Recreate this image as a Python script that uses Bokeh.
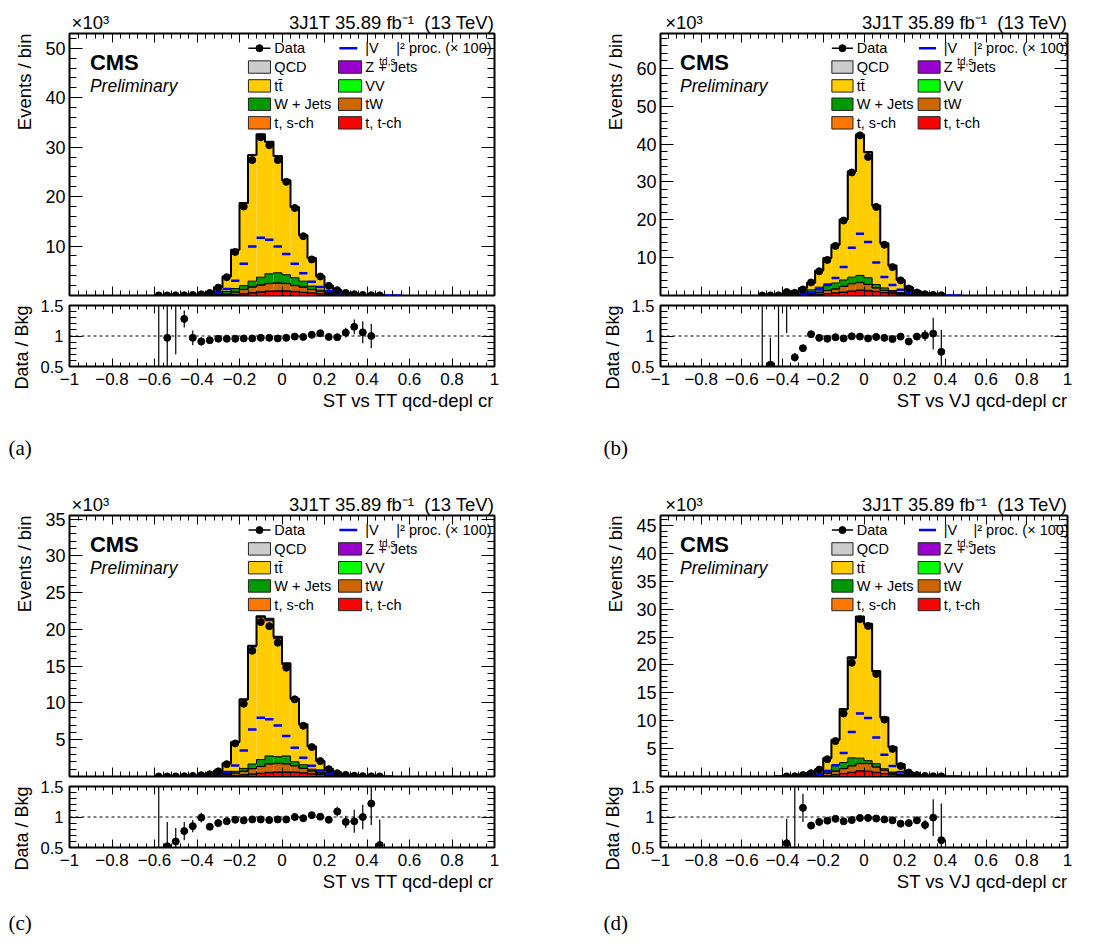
import numpy as np
from bokeh.plotting import figure
from bokeh.models import (Range1d, LinearAxis, SingleIntervalTicker, FixedTicker,
                          CustomJSTickFormatter, Label, Span, Title)
from bokeh.layouts import column, row
from bokeh.embed import file_html
from bokeh.resources import INLINE

FONT = "Liberation Sans"
EDGES = np.linspace(-1.0, 1.0, 51)
LEFT = EDGES[:-1]
RIGHT = EDGES[1:]
CENTERS = 0.5 * (LEFT + RIGHT)
COMP_START = 14

COMP_NAMES = ["t, t-ch", "t, s-ch", "tW", "VV", "W + Jets", "t\u0074\u0304", "Z + Jets", "QCD"]
COMP_COLORS = ["#ff0000", "#ff7700", "#cc6600", "#00ff00", "#009900", "#ffcc00", "#9900cc", "#cccccc"]

# ---------------- panel (a) : ST vs TT ----------------
A_DATA_START = 10
A_DATA = [0.02, 0.02, 0.03, 0.05, 0.11, 0.23, 0.52, 1.6, 3.7, 8.8, 18.0, 27.4, 32.0, 30.4, 27.4,
          23.0, 17.7, 12.0, 7.3, 3.85, 1.95, 1.08, 0.52, 0.25, 0.12, 0.06, 0.03]
A_BLUE_START = 10
A_BLUE = [0.02, 0.03, 0.04, 0.06, 0.1, 0.15, 0.3, 0.7, 1.3, 3.0, 6.4, 9.9, 11.7, 11.3, 9.9, 8.4,
          6.4, 4.5, 2.8, 1.7, 0.9, 0.5, 0.25, 0.12, 0.06, 0.04, 0.03, 0.02, 0.01]
A_RATIO_START = 10
A_RATIO = [0.3, 0.97, 1.6, 1.28, 0.97, 0.91, 0.93, 0.955, 0.955, 0.955, 0.96, 0.96, 0.97, 0.97,
           0.96, 0.97, 0.99, 0.985, 1.02, 1.045, 0.985, 0.98, 1.055, 1.15, 1.06, 1.0]
A_RATIO_ERR = [1.6, 0.9, 0.9, 0.14, 0.12, 0.07, 0.045, 0.025, 0.015, 0.01, 0.01, 0.01, 0.01, 0.01,
               0.01, 0.01, 0.01, 0.012, 0.015, 0.02, 0.03, 0.04, 0.08, 0.12, 0.18, 0.2]
A_TCH = [0, 0.01, 0.02, 0.05, 0.1, 0.2, 0.3, 0.5, 0.65, 0.8, 0.85, 0.85, 0.75, 0.6, 0.45, 0.3, 0.15, 0.08, 0.04, 0.02]
A_SCH = [0, 0, 0, 0.01, 0.02, 0.04, 0.06, 0.08, 0.1, 0.1, 0.1, 0.1, 0.08, 0.06, 0.05, 0.03, 0.02, 0.01, 0, 0]
A_TW = [0.01, 0.02, 0.04, 0.09, 0.18, 0.45, 0.84, 1.12, 1.35, 1.5, 1.55, 1.45, 1.17, 1.04, 0.7, 0.47, 0.28, 0.16, 0.08, 0.04]
A_VV = [0, 0, 0, 0, 0.01, 0.02, 0.03, 0.04, 0.05, 0.05, 0.05, 0.05, 0.04, 0.03, 0.02, 0.01, 0.01, 0, 0, 0]
A_WJ = [0.02, 0.04, 0.09, 0.25, 0.49, 0.69, 0.77, 1.16, 1.55, 1.95, 2.05, 1.75, 1.56, 1.17, 0.68, 0.29, 0.14, 0.1, 0.06, 0.03]
A_TT = [0.09, 0.18, 0.4, 1.3, 3.04, 7.82, 16.64, 25.42, 28.79, 26.59, 23.49, 19.01, 14.22, 9.25, 5.66, 2.78, 1.39, 0.75, 0.32, 0.19]
A_ZJ = [0, 0, 0, 0, 0.01, 0.02, 0.04, 0.06, 0.08, 0.08, 0.08, 0.07, 0.06, 0.04, 0.03, 0.02, 0.01, 0, 0, 0]
A_QCD = [0, 0, 0, 0, 0, 0.01, 0.02, 0.02, 0.03, 0.03, 0.03, 0.02, 0.02, 0.01, 0.01, 0, 0, 0, 0, 0]

# ---------------- panel (b) : ST vs VJ ----------------
B_DATA_START = 12
B_DATA = [0.01, 0.02, 0.05, 0.9, 0.7, 1.6, 3.45, 6.4, 9.4, 13.1, 19.8, 32.5, 42.3, 36.6, 23.4,
          13.4, 7.5, 4.0, 1.85, 0.8, 0.35, 0.15, 0.07]
B_BLUE_START = 12
B_BLUE = [0.02, 0.03, 0.06, 0.15, 0.3, 0.5, 0.8, 1.65, 2.9, 4.6, 7.5, 12.6, 16.3, 14.1, 8.7, 4.9,
          2.8, 1.5, 0.8, 0.4, 0.2, 0.1, 0.05, 0.03, 0.02]
B_RATIO_START = 12
B_RATIO = [0.3, 0.53, 0.3, 1.6, 0.65, 0.8, 1.03, 0.97, 0.955, 0.98, 0.96, 0.995, 0.99, 0.96,
           0.985, 0.97, 0.95, 0.99, 0.91, 0.99, 1.01, 1.04, 0.74]
B_RATIO_ERR = [1.6, 0.44, 1.6, 0.55, 0.07, 0.04, 0.03, 0.02, 0.015, 0.01, 0.01, 0.01, 0.01, 0.01,
               0.01, 0.01, 0.015, 0.02, 0.03, 0.04, 0.09, 0.26, 0.36]
B_TCH = [0.01, 0.03, 0.06, 0.1, 0.2, 0.3, 0.45, 0.6, 0.8, 1.05, 1.3, 1.2, 1.0, 0.7, 0.45, 0.3, 0.15, 0.08, 0.04, 0.02]
B_SCH = [0, 0, 0.01, 0.02, 0.03, 0.05, 0.07, 0.09, 0.12, 0.14, 0.15, 0.14, 0.12, 0.09, 0.06, 0.04, 0.02, 0.01, 0, 0]
B_TW = [0.02, 0.05, 0.08, 0.18, 0.32, 0.45, 0.78, 1.01, 1.48, 1.91, 1.95, 1.56, 0.88, 0.51, 0.39, 0.21, 0.13, 0.06, 0.04, 0.02]
B_VV = [0, 0, 0, 0.01, 0.01, 0.02, 0.03, 0.04, 0.05, 0.06, 0.06, 0.05, 0.04, 0.03, 0.02, 0.01, 0.01, 0, 0, 0]
B_WJ = [0.03, 0.07, 0.2, 0.49, 0.94, 1.38, 1.27, 1.56, 1.65, 1.69, 1.84, 1.75, 0.86, 0.67, 0.38, 0.24, 0.14, 0.1, 0.04, 0.02]
B_TT = [0.14, 0.45, 0.75, 1.19, 1.82, 4.36, 7.23, 10.01, 15.87, 27.77, 37.0, 33.02, 20.77, 11.72, 6.55, 3.27, 1.74, 0.9, 0.38, 0.19]
B_ZJ = [0, 0, 0, 0.01, 0.02, 0.03, 0.05, 0.07, 0.1, 0.14, 0.16, 0.14, 0.1, 0.06, 0.04, 0.02, 0.01, 0, 0, 0]
B_QCD = [0, 0, 0, 0, 0.01, 0.01, 0.02, 0.02, 0.03, 0.04, 0.04, 0.04, 0.03, 0.02, 0.01, 0.01, 0, 0, 0, 0]

# ---------------- panel (c) : ST vs TT ----------------
C_DATA_START = 10
C_DATA = [0.005, 0.01, 0.015, 0.03, 0.085, 0.18, 0.3, 0.7, 1.68, 4.5, 9.9, 17.1, 21.0, 20.45, 18.2,
          14.8, 10.5, 6.9, 4.0, 2.1, 1.0, 0.45, 0.22, 0.1, 0.05, 0.02, 0.01]
C_BLUE_START = 10
C_BLUE = [0.01, 0.02, 0.03, 0.04, 0.06, 0.1, 0.2, 0.35, 0.6, 1.5, 3.55, 6.4, 8.0, 7.8, 6.95, 5.5,
          3.9, 2.55, 1.45, 0.8, 0.45, 0.25, 0.12, 0.06, 0.03, 0.02, 0.01, 0.01]
C_RATIO_START = 10
C_RATIO = [0.3, 0.52, 0.6, 0.77, 0.85, 0.99, 0.84, 0.9, 0.93, 0.955, 0.945, 0.96, 0.96, 0.95, 0.96,
           0.96, 1.0, 0.98, 1.03, 1.005, 0.955, 1.09, 0.92, 0.93, 1.0, 1.22, 0.54]
C_RATIO_ERR = [1.6, 0.4, 0.22, 0.15, 0.1, 0.08, 0.05, 0.03, 0.02, 0.015, 0.01, 0.01, 0.01, 0.01, 0.01,
               0.01, 0.012, 0.015, 0.02, 0.025, 0.03, 0.08, 0.1, 0.19, 0.2, 0.35, 0.42]
C_TCH = [0, 0.01, 0.02, 0.03, 0.06, 0.12, 0.2, 0.3, 0.4, 0.5, 0.55, 0.55, 0.55, 0.45, 0.35, 0.25, 0.15, 0.08, 0.04, 0.02]
C_SCH = [0, 0, 0, 0.01, 0.01, 0.02, 0.03, 0.04, 0.05, 0.06, 0.06, 0.06, 0.05, 0.04, 0.03, 0.02, 0.01, 0.01, 0, 0]
C_TW = [0.01, 0.02, 0.04, 0.08, 0.18, 0.31, 0.47, 0.71, 0.9, 1.14, 1.14, 1.09, 0.85, 0.61, 0.37, 0.18, 0.09, 0.03, 0.02, 0.01]
C_VV = [0, 0, 0, 0, 0.01, 0.01, 0.02, 0.03, 0.03, 0.04, 0.04, 0.04, 0.03, 0.03, 0.02, 0.01, 0.01, 0, 0, 0]
C_WJ = [0.01, 0.02, 0.04, 0.08, 0.14, 0.24, 0.38, 0.62, 0.92, 1.06, 0.91, 1.06, 0.52, 0.47, 0.23, 0.14, 0.04, 0.03, 0.02, 0.01]
C_TT = [0.08, 0.13, 0.25, 0.59, 1.38, 3.94, 9.29, 15.93, 19.28, 18.38, 16.03, 12.36, 8.44, 5.39, 3.03, 1.47, 0.73, 0.29, 0.14, 0.06]
C_ZJ = [0, 0, 0, 0.01, 0.02, 0.05, 0.1, 0.15, 0.2, 0.25, 0.25, 0.22, 0.15, 0.1, 0.06, 0.03, 0.02, 0.01, 0, 0]
C_QCD = [0, 0, 0, 0, 0, 0.01, 0.01, 0.02, 0.02, 0.02, 0.02, 0.02, 0.01, 0.01, 0.01, 0, 0, 0, 0, 0]

# ---------------- panel (d) : ST vs VJ ----------------
D_DATA_START = 15
D_DATA = [0.02, 0.04, 0.25, 0.6, 1.25, 3.1, 6.35, 11.3, 20.4, 28.2, 27.0, 18.4, 10.2, 4.95, 1.9,
          0.72, 0.25, 0.1, 0.04, 0.025]
D_BLUE_START = 14
D_BLUE = [0.02, 0.04, 0.08, 0.15, 0.25, 0.45, 1.0, 2.0, 4.2, 8.0, 11.3, 10.5, 7.0, 3.9, 1.9, 0.8,
          0.35, 0.15, 0.07, 0.04, 0.02, 0.01, 0.01]
D_RATIO_START = 15
D_RATIO = [0.57, 0.3, 1.15, 0.86, 0.92, 0.94, 0.97, 0.93, 0.95, 0.985, 0.985, 0.975, 0.96, 0.945,
           0.89, 0.9, 0.945, 0.87, 0.99, 0.62]
D_RATIO_ERR = [0.4, 1.6, 0.23, 0.06, 0.03, 0.02, 0.015, 0.01, 0.01, 0.01, 0.01, 0.01, 0.012, 0.015,
               0.02, 0.03, 0.05, 0.08, 0.3, 0.6]
D_TCH = [0, 0, 0.01, 0.02, 0.03, 0.07, 0.15, 0.3, 0.5, 0.7, 0.95, 0.9, 0.7, 0.5, 0.3, 0.15, 0.06, 0.02, 0.01, 0]
D_SCH = [0, 0, 0, 0, 0.01, 0.01, 0.02, 0.03, 0.05, 0.06, 0.07, 0.07, 0.06, 0.04, 0.03, 0.01, 0.01, 0, 0, 0]
D_TW = [0, 0, 0.01, 0.04, 0.11, 0.22, 0.43, 0.62, 0.85, 1.14, 1.28, 1.33, 0.94, 0.56, 0.27, 0.14, 0.05, 0.03, 0.01, 0]
D_VV = [0, 0, 0, 0, 0, 0.01, 0.01, 0.02, 0.03, 0.03, 0.04, 0.04, 0.03, 0.02, 0.01, 0.01, 0, 0, 0, 0]
D_WJ = [0, 0.01, 0.02, 0.06, 0.2, 0.29, 0.49, 1.03, 1.07, 1.42, 0.95, 0.5, 0.57, 0.28, 0.19, 0.14, 0.08, 0.03, 0.01, 0]
D_TT = [0.02, 0.025, 0.04, 0.1, 0.34, 0.74, 2.14, 4.49, 9.43, 17.78, 25.09, 24.29, 16.44, 9.11, 4.46, 1.73, 0.59, 0.19, 0.09, 0.04]
D_ZJ = [0, 0, 0, 0, 0.01, 0.02, 0.05, 0.1, 0.15, 0.25, 0.3, 0.25, 0.15, 0.08, 0.04, 0.02, 0.01, 0, 0, 0]
D_QCD = [0, 0, 0, 0, 0, 0, 0.01, 0.01, 0.02, 0.02, 0.02, 0.02, 0.01, 0.01, 0, 0, 0, 0, 0, 0]

Y_MAX = [53.0, 69.2, 35.5, 46.8]
Y_MAJOR = [10, 10, 5, 5]
X_TITLES = ["ST vs TT qcd-depl cr", "ST vs VJ qcd-depl cr", "ST vs TT qcd-depl cr", "ST vs VJ qcd-depl cr"]
TAGS = ["(a)", "(b)", "(c)", "(d)"]
EXP_LABEL = "\u00d710\u00b3"
HEADER = "3J1T 35.89 fb\u207b\u00b9\u00a0\u00a0(13 TeV)"

XFMT = CustomJSTickFormatter(code="""
  const v = Math.round(tick * 10) / 10;
  let s = (Math.abs(v - Math.round(v)) < 1e-9) ? Math.round(v).toFixed(0) : v.toFixed(1);
  if (s === "-0") { s = "0"; }
  return s.replace("-", "\u2212");
""")
YFMT = CustomJSTickFormatter(code="""
  if (Math.abs(tick) < 1e-9) { return ""; }
  return Math.round(tick).toFixed(0);
""")
RFMT = CustomJSTickFormatter(code="""
  if (Math.abs(tick - 1) < 1e-9) { return "1"; }
  return tick.toFixed(1);
""")


def style_axis(ax, ticker, major_in, minor_in, labels=False, size=15, standoff=5, fmt=None):
    ax.ticker = ticker
    ax.major_tick_in = major_in
    ax.major_tick_out = 0
    ax.minor_tick_in = minor_in
    ax.minor_tick_out = 0
    ax.axis_line_color = "black"
    ax.major_tick_line_color = "black"
    ax.minor_tick_line_color = "black"
    if labels:
        ax.major_label_text_font = FONT
        ax.major_label_text_font_size = f"{size}px"
        ax.major_label_text_color = "black"
        ax.major_label_standoff = standoff
        if fmt is not None:
            ax.formatter = fmt
    else:
        ax.major_label_text_font_size = "0px"
        ax.major_label_standoff = 0


def lab(p, x, y, text, size, **kw):
    kw.setdefault("text_font", FONT)
    p.add_layout(Label(x=x, y=y, text=text, text_font_size=f"{size}px", text_color="black", **kw))


def side_title(p, where, text, size, align, standoff, offset=0, font=FONT):
    p.add_layout(Title(text=text, align=align, standoff=standoff, offset=offset,
                       text_font=font, text_font_size=f"{size}px", text_font_style="normal",
                       text_color="black"), where)


def step_path(lo, hi, vals):
    xs = np.concatenate([[lo[0]], np.column_stack([lo, hi]).ravel(), [hi[-1]]])
    ys = np.concatenate([[0.0], np.repeat(vals, 2), [0.0]])
    return xs, ys


def build(i, comps, data_start, data, blue_start, blue, ratio_start, ratio, ratio_err,
          fw, lb, rb, tb, fh, rbb, nbsp, tag_off, tag_standoff):
    ymax = Y_MAX[i]
    p = figure(frame_width=fw, frame_height=fh, x_range=Range1d(-1, 1), y_range=Range1d(0, ymax),
               min_border_left=lb, min_border_right=rb, min_border_top=tb, min_border_bottom=2,
               output_backend="svg", toolbar_location=None)
    p.grid.visible = False
    p.outline_line_color = "black"
    p.outline_line_width = 2
    p.background_fill_color = "white"
    p.border_fill_color = "white"

    xt = SingleIntervalTicker(interval=0.2, num_minor_ticks=5)
    yt = SingleIntervalTicker(interval=Y_MAJOR[i], num_minor_ticks=5)
    style_axis(p.xaxis[0], xt, 9, 5)
    style_axis(p.yaxis[0], yt, 13, 7, labels=True, size=18, standoff=4, fmt=YFMT)
    top_ax = LinearAxis()
    style_axis(top_ax, xt, 9, 5)
    p.add_layout(top_ax, "above")
    right_ax = LinearAxis()
    style_axis(right_ax, yt, 13, 7)
    p.add_layout(right_ax, "right")

    # stacked backgrounds
    n = len(comps[0])
    lo = LEFT[COMP_START:COMP_START + n]
    hi = RIGHT[COMP_START:COMP_START + n]
    bottom = np.zeros(n)
    tops = []
    for vals, col in zip(comps, COMP_COLORS):
        top = bottom + np.asarray(vals, dtype=float)
        p.quad(left=lo, right=hi, bottom=bottom, top=top, fill_color=col, line_color=None)
        tops.append(top)
        bottom = top
    for top in tops[:-1]:
        xs, ys = step_path(lo, hi, top)
        p.line(xs, ys, line_color="black", line_width=1)
    xs, ys = step_path(lo, hi, tops[-1])
    p.line(xs, ys, line_color="black", line_width=2)

    # |Vtd,s|^2 process x100
    nb = len(blue)
    bl = LEFT[blue_start:blue_start + nb]
    bh = RIGHT[blue_start:blue_start + nb]
    p.segment(x0=bl, x1=bh, y0=blue, y1=blue, line_color="#0000ff", line_width=2.5)

    # data
    nd = len(data)
    p.scatter(CENTERS[data_start:data_start + nd], data, size=7, color="black")

    # texts outside the frame (titles)
    side_title(p, "above", EXP_LABEL + "\u00a0" * nbsp + HEADER, 18.5, "right", 2)
    side_title(p, "left", "Events / bin", 18.5, "right", 15)

    # texts inside the frame
    fx = lambda f: -1 + 2 * f
    fy = lambda f: ymax * (1 - f)
    lab(p, fx(0.048), fy(0.11), "CMS", 22, text_font_style="bold", text_baseline="alphabetic")
    lab(p, fx(0.048), fy(0.201), "Preliminary", 17.5, text_font_style="italic", text_baseline="alphabetic")

    # legend
    rows_f = [0.056, 0.128, 0.2, 0.27, 0.341]
    half = 6.2 / fh
    c1 = (0.421, 0.473)
    c2 = (0.633, 0.687)
    p.line([fx(c1[0]), fx(c1[1])], [fy(rows_f[0])] * 2, line_color="black", line_width=1.5)
    p.scatter([fx(0.447)], [fy(rows_f[0])], size=7, color="black")
    lab(p, fx(0.482), fy(rows_f[0]), "Data", 14.5, text_baseline="middle")
    p.line([fx(0.635), fx(0.677)], [fy(rows_f[0])] * 2, line_color="#0000ff", line_width=2.5)
    lab(p, fx(0.696), fy(rows_f[0]), "|V", 14.5, text_baseline="middle")
    lab(p, fx(0.729), fy(rows_f[0]), "td,s", 10, y_offset=-13, text_baseline="alphabetic")
    lab(p, fx(0.769), fy(rows_f[0]), "|\u00b2 proc. (\u00d7 100)", 14.5, text_baseline="middle")
    col1_items = [7, 5, 4, 1]
    col2_items = [6, 3, 2, 0]
    for r, (ia, ib) in enumerate(zip(col1_items, col2_items), start=1):
        yc = rows_f[r]
        for (cx, tx, idx) in ((c1, 0.482, ia), (c2, 0.696, ib)):
            p.quad(left=[fx(cx[0])], right=[fx(cx[1])], bottom=[fy(yc + half)], top=[fy(yc - half)],
                   fill_color=COMP_COLORS[idx], line_color="#222222", line_width=1)
            lab(p, fx(tx), fy(yc), COMP_NAMES[idx], 14.5, text_baseline="middle")

    # ratio panel
    r = figure(frame_width=fw, frame_height=61, x_range=Range1d(-1, 1), y_range=Range1d(0.5, 1.5),
               min_border_left=lb, min_border_right=rb, min_border_top=8, min_border_bottom=rbb,
               output_backend="svg", toolbar_location=None)
    r.grid.visible = False
    r.outline_line_color = "black"
    r.outline_line_width = 2
    r.background_fill_color = "white"
    r.border_fill_color = "white"
    rxt = SingleIntervalTicker(interval=0.2, num_minor_ticks=5)
    ryt = FixedTicker(ticks=[0.5, 1.0, 1.5], minor_ticks=[0.6, 0.7, 0.8, 0.9, 1.1, 1.2, 1.3, 1.4])
    style_axis(r.xaxis[0], rxt, 8, 4, labels=True, size=17, standoff=6, fmt=XFMT)
    style_axis(r.yaxis[0], ryt, 13, 7, labels=True, size=16.5, standoff=6, fmt=RFMT)
    rt = LinearAxis()
    style_axis(rt, rxt, 8, 4)
    r.add_layout(rt, "above")
    rr = LinearAxis()
    style_axis(rr, ryt, 13, 7)
    r.add_layout(rr, "right")
    r.add_layout(Span(location=1.0, dimension="width", line_color="black", line_dash="3 3", line_width=1))

    nr = len(ratio)
    rc = CENTERS[ratio_start:ratio_start + nr]
    rv = np.asarray(ratio, dtype=float)
    re = np.asarray(ratio_err, dtype=float)
    r.segment(x0=rc, x1=rc, y0=rv - re, y1=rv + re, line_color="black", line_width=1.2)
    r.scatter(rc, rv, size=7, color="black")

    side_title(r, "left", "Data / Bkg", 18, "right", 12)
    side_title(r, "below", X_TITLES[i], 18.5, "right", 0)
    side_title(r, "below", TAGS[i], 21, "left", tag_standoff, offset=tag_off, font="Liberation Serif")
    return column(p, r, spacing=0)


pa = build(0, [A_TCH, A_SCH, A_TW, A_VV, A_WJ, A_TT, A_ZJ, A_QCD], A_DATA_START, A_DATA,
           A_BLUE_START, A_BLUE, A_RATIO_START, A_RATIO, A_RATIO_ERR,
           425, 69, 56, 33, 262, 114, 35, -61, 47)
pb = build(1, [B_TCH, B_SCH, B_TW, B_VV, B_WJ, B_TT, B_ZJ, B_QCD], B_DATA_START, B_DATA,
           B_BLUE_START, B_BLUE, B_RATIO_START, B_RATIO, B_RATIO_ERR,
           407, 110, 27, 33, 262, 114, 31, -57, 47)
pc = build(2, [C_TCH, C_SCH, C_TW, C_VV, C_WJ, C_TT, C_ZJ, C_QCD], C_DATA_START, C_DATA,
           C_BLUE_START, C_BLUE, C_RATIO_START, C_RATIO, C_RATIO_ERR,
           425, 69, 56, 32, 261, 101, 35, -61, 34)
pd_ = build(3, [D_TCH, D_SCH, D_TW, D_VV, D_WJ, D_TT, D_ZJ, D_QCD], D_DATA_START, D_DATA,
            D_BLUE_START, D_BLUE, D_RATIO_START, D_RATIO, D_RATIO_ERR,
            407, 110, 27, 32, 261, 101, 31, -57, 34)

layout = column(row(pa, pb, spacing=0), row(pc, pd_, spacing=0), spacing=0)

with open("out.html", "w") as f:
    f.write(file_html(layout, INLINE, title="CMS 3J1T control regions"))
